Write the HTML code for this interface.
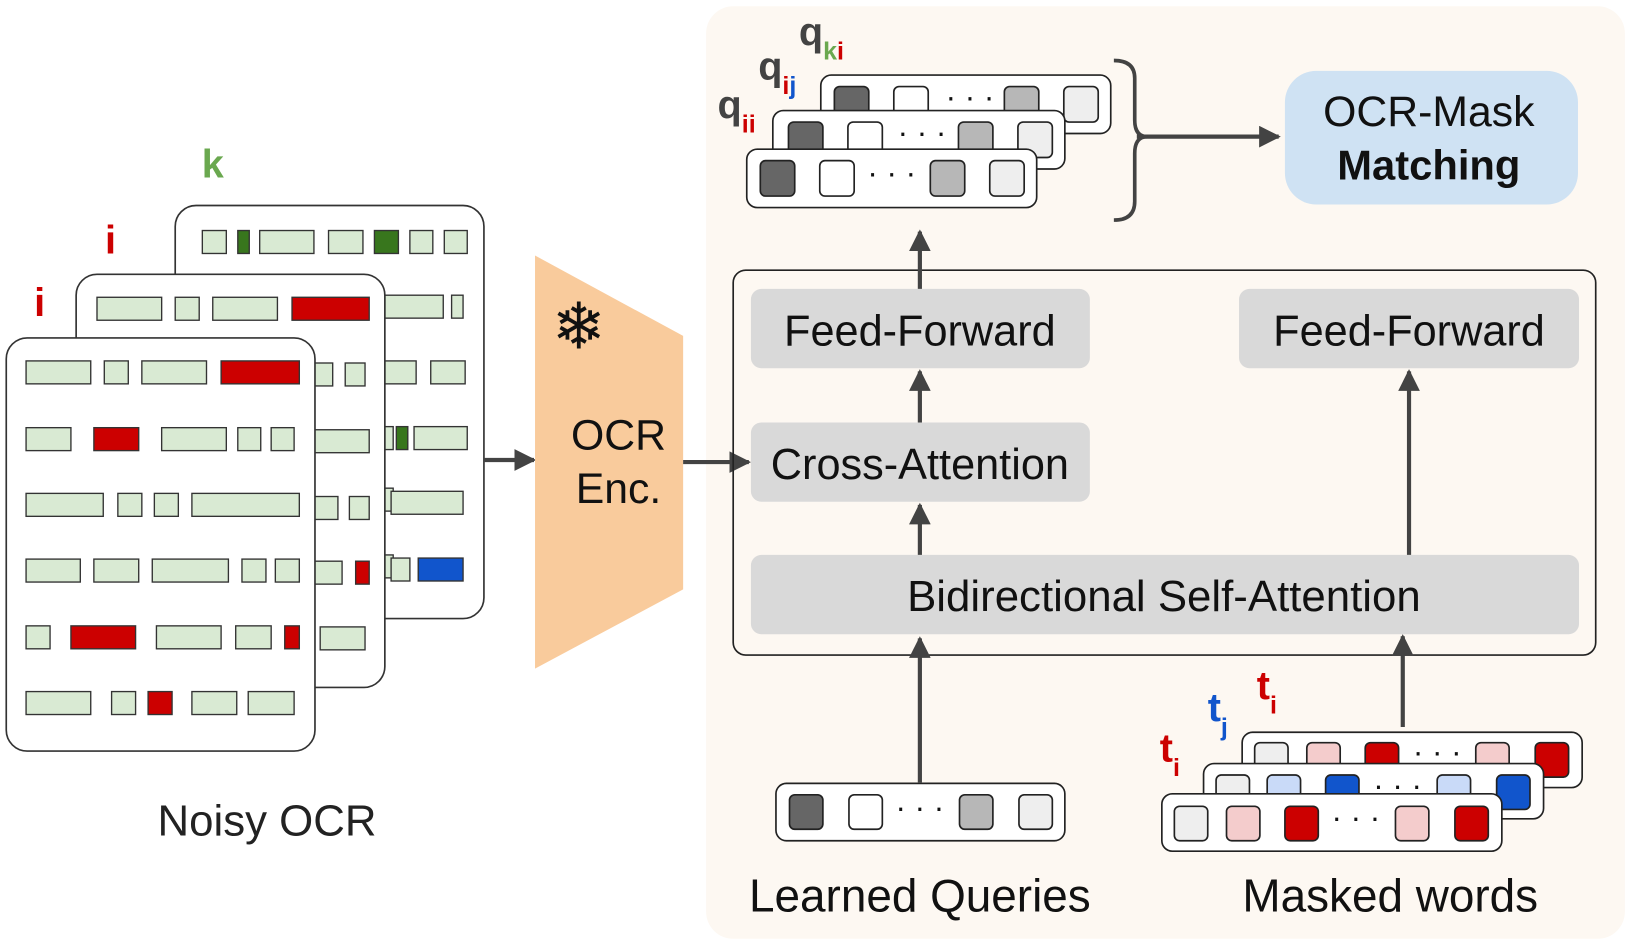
<!DOCTYPE html>
<html><head><meta charset="utf-8"><style>
html,body{margin:0;padding:0;background:#fff;}
svg{display:block;}
text{font-family:"Liberation Sans",sans-serif;}
</style></head><body>
<svg width="1627" height="944" viewBox="0 0 1560 905" preserveAspectRatio="none" xmlns="http://www.w3.org/2000/svg">
<defs>
<marker id="ah" viewBox="0 0 10 10" refX="9" refY="5" markerWidth="5.2" markerHeight="5.2" orient="auto"><path d="M0,0 L10,5 L0,10 z" fill="#434343"/></marker>
</defs>
<rect x="677" y="6" width="881" height="894" rx="26" fill="#fdf8f2"/>

<!-- left cards -->
<g stroke="#333" stroke-width="1.6">
<rect x="168" y="197" width="296" height="396" rx="20" fill="#fff"/>
<g fill="#d9ead3" stroke-width="1.3">
<rect x="194" y="221" width="23" height="22"/><rect x="228" y="221" width="11" height="22" fill="#38761d"/><rect x="249" y="221" width="52" height="22"/><rect x="315" y="221" width="33" height="22"/><rect x="359" y="221" width="23" height="22" fill="#38761d"/><rect x="393" y="221" width="22" height="22"/><rect x="426" y="221" width="22" height="22"/>
<rect x="369" y="283" width="56" height="22"/><rect x="433" y="283" width="11" height="22"/>
<rect x="369" y="346" width="30" height="22"/><rect x="413" y="346" width="33" height="22"/>
<rect x="369" y="409" width="8" height="22"/><rect x="380" y="409" width="11" height="22" fill="#38761d"/><rect x="397" y="409" width="51" height="22"/>
<rect x="369" y="468" width="8" height="22"/><rect x="375" y="471" width="69" height="22"/>
<rect x="369" y="532" width="8" height="22"/><rect x="375" y="535" width="18" height="22"/><rect x="401" y="535" width="43" height="22" fill="#1155cc"/>
</g>
<rect x="73" y="263" width="296" height="396" rx="20" fill="#fff"/>
<g fill="#d9ead3" stroke-width="1.3">
<rect x="93" y="285" width="62" height="22"/><rect x="168" y="285" width="23" height="22"/><rect x="204" y="285" width="62" height="22"/><rect x="280" y="285" width="74" height="22" fill="#cc0000"/>
<rect x="300" y="348" width="19" height="22"/><rect x="331" y="348" width="19" height="22"/>
<rect x="300" y="412" width="54" height="22"/>
<rect x="300" y="476" width="24" height="22"/><rect x="335" y="476" width="19" height="22"/>
<rect x="300" y="538" width="28" height="22"/><rect x="341" y="538" width="13" height="22" fill="#cc0000"/>
<rect x="307" y="601" width="43" height="22"/>
</g>
<rect x="6" y="324" width="296" height="396" rx="20" fill="#fff"/>
<g fill="#d9ead3" stroke-width="1.3">
<rect x="25" y="346" width="62" height="22"/><rect x="100" y="346" width="23" height="22"/><rect x="136" y="346" width="62" height="22"/><rect x="212" y="346" width="75" height="22" fill="#cc0000"/>
<rect x="25" y="410" width="43" height="22"/><rect x="90" y="410" width="43" height="22" fill="#cc0000"/><rect x="155" y="410" width="62" height="22"/><rect x="228" y="410" width="22" height="22"/><rect x="260" y="410" width="22" height="22"/>
<rect x="25" y="473" width="74" height="22"/><rect x="113" y="473" width="23" height="22"/><rect x="148" y="473" width="23" height="22"/><rect x="184" y="473" width="103" height="22"/>
<rect x="25" y="536" width="52" height="22"/><rect x="90" y="536" width="43" height="22"/><rect x="146" y="536" width="73" height="22"/><rect x="232" y="536" width="23" height="22"/><rect x="264" y="536" width="23" height="22"/>
<rect x="25" y="600" width="23" height="22"/><rect x="68" y="600" width="62" height="22" fill="#cc0000"/><rect x="150" y="600" width="62" height="22"/><rect x="226" y="600" width="34" height="22"/><rect x="273" y="600" width="14" height="22" fill="#cc0000"/>
<rect x="25" y="663" width="62" height="22"/><rect x="107" y="663" width="23" height="22"/><rect x="142" y="663" width="23" height="22" fill="#cc0000"/><rect x="184" y="663" width="43" height="22"/><rect x="238" y="663" width="44" height="22"/>
</g>
</g>
<text x="204" y="170" font-size="38" font-weight="bold" fill="#6aa84f" text-anchor="middle">k</text>
<text x="106" y="243" font-size="38" font-weight="bold" fill="#cc0000" text-anchor="middle">i</text>
<text x="38" y="303" font-size="38" font-weight="bold" fill="#cc0000" text-anchor="middle">i</text>
<text x="256" y="801" font-size="42" fill="#222" text-anchor="middle">Noisy OCR</text>

<!-- encoder -->
<line x1="464" y1="441" x2="512" y2="441" stroke="#434343" stroke-width="4" marker-end="url(#ah)"/>
<polygon points="513,245 655,322 655,565 513,641" fill="#f9cb9c"/>
<text x="555" y="334" font-size="62" fill="#111" text-anchor="middle">❄</text>
<text x="593" y="431" font-size="41" fill="#111" text-anchor="middle">OCR</text>
<text x="593" y="482" font-size="41" fill="#111" text-anchor="middle">Enc.</text>
<line x1="655" y1="443" x2="718" y2="443" stroke="#434343" stroke-width="4" marker-end="url(#ah)"/>

<!-- transformer -->
<rect x="703" y="259" width="827" height="369" rx="12" fill="none" stroke="#222" stroke-width="1.6"/>
<g fill="#d9d9d9">
<rect x="720" y="277" width="325" height="76" rx="10"/>
<rect x="1188" y="277" width="326" height="76" rx="10"/>
<rect x="720" y="405" width="325" height="76" rx="10"/>
<rect x="720" y="532" width="794" height="76" rx="10"/>
</g>
<g font-size="41.5" fill="#111" text-anchor="middle">
<text x="882" y="331">Feed-Forward</text>
<text x="1351" y="331">Feed-Forward</text>
<text x="882" y="459">Cross-Attention</text>
<text x="1116" y="586" font-size="42">Bidirectional Self-Attention</text>
</g>
<g stroke="#434343" stroke-width="4" marker-end="url(#ah)">
<line x1="882" y1="277" x2="882" y2="222"/>
<line x1="882" y1="405" x2="882" y2="356"/>
<line x1="882" y1="532" x2="882" y2="484"/>
<line x1="1351" y1="532" x2="1351" y2="356"/>
<line x1="882" y1="750" x2="882" y2="612"/>
<line x1="1345" y1="697" x2="1345" y2="610"/>
<line x1="1090" y1="131" x2="1226" y2="131"/>
</g>

<!-- query stacks -->
<g stroke="#222" stroke-width="1.6">
<rect x="787" y="72" width="278" height="56" rx="10" fill="#fff"/>
<rect x="800" y="83" width="33" height="34" rx="5" fill="#666"/><rect x="857" y="83" width="33" height="34" rx="5" fill="#fff"/><rect x="963" y="83" width="33" height="34" rx="5" fill="#b7b7b7"/><rect x="1020" y="83" width="33" height="34" rx="5" fill="#eee"/>
<rect x="741" y="106" width="280" height="56" rx="10" fill="#fff"/>
<rect x="756" y="117" width="33" height="34" rx="5" fill="#666"/><rect x="813" y="117" width="33" height="34" rx="5" fill="#fff"/><rect x="919" y="117" width="33" height="34" rx="5" fill="#b7b7b7"/><rect x="976" y="117" width="33" height="34" rx="5" fill="#eee"/>
<rect x="716" y="143" width="278" height="56" rx="10" fill="#fff"/>
<rect x="729" y="154" width="33" height="34" rx="5" fill="#666"/><rect x="786" y="154" width="33" height="34" rx="5" fill="#fff"/><rect x="892" y="154" width="33" height="34" rx="5" fill="#b7b7b7"/><rect x="949" y="154" width="33" height="34" rx="5" fill="#eee"/>
</g>
<g font-size="30" fill="#111" text-anchor="middle"><text x="930" y="103">· · ·</text><text x="884" y="137">· · ·</text><text x="855" y="176">· · ·</text></g>
<g font-weight="bold" fill="#434343">
<text x="688" y="113" font-size="38">q<tspan font-size="24" dy="14" fill="#cc0000">ii</tspan></text>
<text x="727" y="76" font-size="38">q<tspan font-size="24" dy="14" fill="#cc0000">i</tspan><tspan font-size="24" fill="#1155cc">j</tspan></text>
<text x="766" y="43" font-size="38">q<tspan font-size="24" dy="14" fill="#6aa84f">k</tspan><tspan font-size="24" fill="#cc0000">i</tspan></text>
</g>
<path d="M1068,58 Q1088,58 1088,75 L1088,115 Q1088,131 1100,131 Q1088,131 1088,147 L1088,193 Q1088,211 1068,211" fill="none" stroke="#434343" stroke-width="3.5"/>
<rect x="1232" y="68" width="281" height="128" rx="30" fill="#cfe2f3"/>
<text x="1370" y="121" font-size="41" fill="#111" text-anchor="middle">OCR-Mask</text>
<text x="1370" y="172" font-size="40" font-weight="bold" fill="#111" text-anchor="middle">Matching</text>

<!-- learned queries -->
<g stroke="#222" stroke-width="1.6">
<rect x="744" y="751" width="277" height="55" rx="10" fill="#fff"/>
<rect x="757" y="762" width="32" height="33" rx="5" fill="#666"/><rect x="814" y="762" width="32" height="33" rx="5" fill="#fff"/><rect x="920" y="762" width="32" height="33" rx="5" fill="#b7b7b7"/><rect x="977" y="762" width="32" height="33" rx="5" fill="#eee"/>
</g>
<text x="882" y="784" font-size="30" fill="#111" text-anchor="middle">· · ·</text>
<text x="882" y="874" font-size="44" fill="#111" text-anchor="middle">Learned Queries</text>

<!-- masked words -->
<g stroke="#222" stroke-width="1.6">
<rect x="1191" y="702" width="326" height="53" rx="10" fill="#fff"/>
<rect x="1203" y="712" width="32" height="33" rx="5" fill="#eee"/><rect x="1253" y="712" width="32" height="33" rx="5" fill="#f4cccc"/><rect x="1309" y="712" width="32" height="33" rx="5" fill="#cc0000"/><rect x="1415" y="712" width="32" height="33" rx="5" fill="#f4cccc"/><rect x="1472" y="712" width="32" height="33" rx="5" fill="#cc0000"/>
<rect x="1154" y="732" width="326" height="53" rx="10" fill="#fff"/>
<rect x="1166" y="743" width="32" height="33" rx="5" fill="#eee"/><rect x="1215" y="743" width="32" height="33" rx="5" fill="#c9daf8"/><rect x="1271" y="743" width="32" height="33" rx="5" fill="#1155cc"/><rect x="1378" y="743" width="32" height="33" rx="5" fill="#c9daf8"/><rect x="1435" y="743" width="32" height="33" rx="5" fill="#1155cc"/>
<rect x="1114" y="761" width="326" height="55" rx="10" fill="#fff"/>
<rect x="1126" y="773" width="32" height="33" rx="5" fill="#eee"/><rect x="1176" y="773" width="32" height="33" rx="5" fill="#f4cccc"/><rect x="1232" y="773" width="32" height="33" rx="5" fill="#cc0000"/><rect x="1338" y="773" width="32" height="33" rx="5" fill="#f4cccc"/><rect x="1395" y="773" width="32" height="33" rx="5" fill="#cc0000"/>
</g>
<g font-size="30" fill="#111" text-anchor="middle"><text x="1378" y="731">· · ·</text><text x="1340" y="763">· · ·</text><text x="1300" y="794">· · ·</text></g>
<g font-weight="bold">
<text x="1112" y="730" font-size="38" fill="#cc0000">t<tspan font-size="24" dy="14">i</tspan></text>
<text x="1158" y="691" font-size="38" fill="#1155cc">t<tspan font-size="24" dy="14">j</tspan></text>
<text x="1205" y="670" font-size="38" fill="#cc0000">t<tspan font-size="24" dy="14">i</tspan></text>
</g>
<text x="1333" y="874" font-size="44" fill="#111" text-anchor="middle">Masked words</text>
</svg>
</body></html>
